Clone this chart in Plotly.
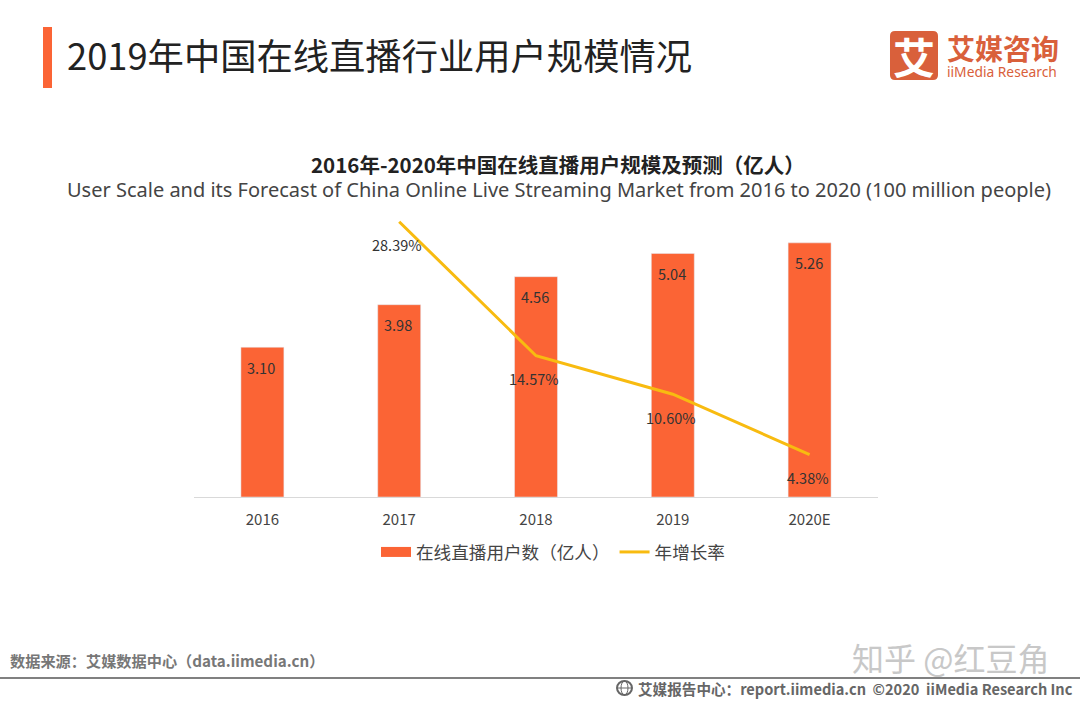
import plotly.graph_objects as go

# values
years = ['2016', '2017', '2018', '2019', '2020E']
users = [3.10, 3.98, 4.56, 5.04, 5.26]
user_labels = ['3.10', '3.98', '4.56', '5.04', '5.26']
growth = [None, 28.39, 14.57, 10.60, 4.38]
growth_labels = ['', '28.39%', '14.57%', '10.60%', '4.38%']

W, H = 1080, 702
L, R, T, B = 194, 878, 210, 497
ORANGE = '#fb6435'
YELLOW = '#f8bb10'
LOGO = '#d9603b'
CJK = 'Noto Sans CJK SC'


def px(x):
    return (x - L) / (R - L)


def py(y):
    return (B - y) / (B - T)


def label(x, y, text, size, color='#333333', anchor='left', font=CJK, bold=False):
    if bold:
        text = '<b>' + text + '</b>'
    return dict(x=px(x), y=py(y), xref='paper', yref='paper', text=text, showarrow=False,
                xanchor=anchor, yanchor='middle', align=anchor,
                font=dict(size=size, color=color, family=font))


def round_box(x0, y0, x1, y1, r):
    pts = [('M', x0 + r, y0), ('L', x1 - r, y0), ('Q', x1, y0), ('', x1, y0 + r), ('L', x1, y1 - r),
           ('Q', x1, y1), ('', x1 - r, y1), ('L', x0 + r, y1), ('Q', x0, y1), ('', x0, y1 - r),
           ('L', x0, y0 + r), ('Q', x0, y0), ('', x0 + r, y0)]
    return ' '.join(f'{c} {px(x):.5f} {py(y):.5f}' for c, x, y in pts) + ' Z'


fig = go.Figure()
fig.add_trace(go.Bar(x=years, y=users, width=0.314, marker_color=ORANGE, showlegend=False,
                     hoverinfo='skip'))
# thick line only for the wide legend swatch
fig.add_trace(go.Scatter(x=years, y=[None] * 5, mode='lines', name='在线直播用户数（亿人）',
                         line=dict(color=ORANGE, width=12)))
fig.add_trace(go.Scatter(x=years, y=growth, mode='lines', name='年增长率', yaxis='y2',
                         line=dict(color=YELLOW, width=3)))

notes = []
# category positions by index, a string like '2016' would be read as a number here
for i, (v, t) in enumerate(zip(users, user_labels)):
    notes.append(dict(x=i, y=v, xref='x', yref='y', text=t, showarrow=False, yshift=-20, xshift=-1,
                      font=dict(size=14.5, color='#333333', family=CJK)))
for i, (v, t) in enumerate(zip(growth, growth_labels)):
    if v is not None:
        notes.append(dict(x=i, y=v, xref='x', yref='y2', text=t, showarrow=False, yshift=-23, xshift=-2,
                          font=dict(size=14.5, color='#333333', family=CJK)))

notes += [
    label(65, 54, '2019年中国在线直播行业用户规模情况', 36.3, '#222222'),
    label(558, 164, '2016年-2020年中国在线直播用户规模及预测（亿人）', 20.5, '#222222', 'center', bold=True),
    label(559, 190, 'User Scale and its Forecast of China Online Live Streaming Market from 2016 to 2020 (100 million people)',
          20, '#444444', 'center', 'Noto Sans'),
    label(914, 55, '艾', 42, 'white', 'center', bold=True),
    label(945, 48, '艾媒咨询', 28, LOGO, bold=True),
    label(945, 71, 'iiMedia Research', 13.8, LOGO, font='Noto Sans'),
    label(8, 660, '数据来源：艾媒数据中心（data.iimedia.cn）', 15.2, '#777777', bold=True),
    label(636, 688, '艾媒报告中心：report.iimedia.cn  ©2020  iiMedia Research Inc', 14.6, '#666666', bold=True),
    label(850, 657, '知乎 @红豆角', 32, '#c8c8c8'),
]

shapes = [
    dict(type='rect', xref='paper', yref='paper', x0=px(43), x1=px(52), y0=py(88), y1=py(27),
         fillcolor=ORANGE, line_width=0),
    dict(type='path', xref='paper', yref='paper', path=round_box(890, 31, 938, 80, 5),
         fillcolor=LOGO, line_width=0),
    dict(type='line', xref='paper', yref='paper', x0=px(0), x1=px(1080), y0=py(678), y1=py(678),
         line=dict(color='#808080', width=2)),
    # little globe in the footer
    dict(type='circle', xref='paper', yref='paper', x0=px(617), x1=px(632), y0=py(695), y1=py(681),
         line=dict(color='#666666', width=2)),
    dict(type='circle', xref='paper', yref='paper', x0=px(621), x1=px(628), y0=py(695), y1=py(681),
         line=dict(color='#666666', width=1)),
    dict(type='line', xref='paper', yref='paper', x0=px(617), x1=px(632), y0=py(688), y1=py(688),
         line=dict(color='#666666', width=1)),
]

fig.update_layout(
    width=W, height=H, autosize=False,
    margin=dict(l=L, r=W - R, t=T, b=H - B),
    paper_bgcolor='white', plot_bgcolor='white',
    font=dict(family=CJK, color='#444444'),
    xaxis=dict(type='category', categoryorder='array', categoryarray=years, range=[-0.5, 4.5],
               showgrid=False, showline=True, linecolor='#d9d9d9', linewidth=1,
               ticks='outside', ticklen=9, tickcolor='white',
               tickfont=dict(size=15, color='#444444')),
    yaxis=dict(range=[0, 5.94], visible=False),
    yaxis2=dict(range=[0, 29.6], overlaying='y', side='right', visible=False),
    legend=dict(orientation='h', x=px(376), y=py(552), xanchor='left', yanchor='middle',
                itemwidth=30, font=dict(size=17.6, color='#444444'), tracegroupgap=0),
    annotations=notes, shapes=shapes,
)

# page margin off so the figure sits at the window corner
fig.write_html("out.html", config=dict(displayModeBar=False),
               post_script="document.body.style.margin='0';")
